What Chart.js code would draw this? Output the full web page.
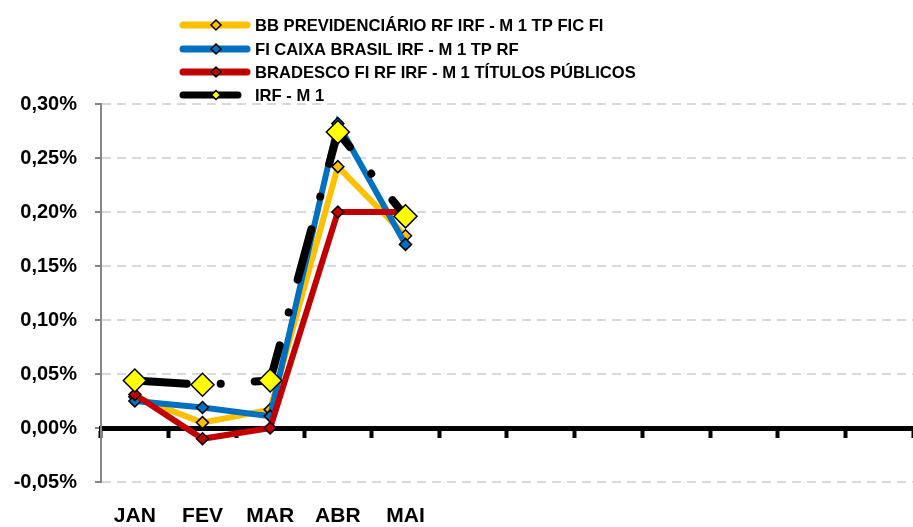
<!DOCTYPE html>
<html>
<head>
<meta charset="utf-8">
<title>Rentabilidade mensal</title>
<script src="https://cdn.jsdelivr.net/npm/chart.js@4.4.1/dist/chart.umd.min.js"></script>
<style>
  body { margin: 0; background: #fff; }
  #wrap { width: 913px; height: 527px; }
</style>
</head>
<body>
<div id="wrap"><canvas id="chart" width="913" height="527"></canvas></div>
<script>
// meses (só os cinco primeiros têm rótulo)
const months = ['JAN', 'FEV', 'MAR', 'ABR', 'MAI', '', '', '', '', '', '', ''];

// rentabilidade mensal em %
const bbPrev = [0.029, 0.005, 0.017, 0.242, 0.178];
const caixaBrasil = [0.025, 0.019, 0.011, 0.282, 0.170];
const bradesco = [0.031, -0.010, 0.000, 0.200, 0.200];
const irfM1 = [0.044, 0.040, 0.044, 0.274, 0.196];

const seriesNames = [
  'BB PREVIDENCIÁRIO RF IRF - M 1 TP FIC FI',
  'FI CAIXA BRASIL IRF - M 1 TP RF',
  'BRADESCO FI RF IRF - M 1 TÍTULOS PÚBLICOS',
  'IRF - M 1'
];

const yMin = -0.05, yMax = 0.30, yStep = 0.05;

const FONT = "'Liberation Sans', Arial, sans-serif";

function fmtPct(v) {
  return (Math.round(v * 100) / 100).toFixed(2).replace('.', ',') + '%';
}

// legenda desenhada à mão, uma linha por série
const legendPlugin = {
  id: 'stackedLegend',
  afterDraw(chart) {
    const ctx = chart.ctx;
    const rows = [25, 49, 72, 95];
    ctx.save();
    chart.data.datasets.forEach((ds, i) => {
      const y = rows[i];
      const x1 = 180, x2 = i === 3 ? 241 : 250, xm = 216;
      ctx.beginPath();
      ctx.lineCap = 'round';
      ctx.lineWidth = 7;
      ctx.strokeStyle = ds.borderColor;
      ctx.moveTo(x1 + 3, y);
      ctx.lineTo(x2 - 3, y);
      ctx.stroke();
      const r = i === 3 ? 4.5 : 5;
      ctx.beginPath();
      ctx.moveTo(xm, y - r);
      ctx.lineTo(xm + r, y);
      ctx.lineTo(xm, y + r);
      ctx.lineTo(xm - r, y);
      ctx.closePath();
      ctx.fillStyle = ds.pointBackgroundColor;
      ctx.fill();
      ctx.lineWidth = 1.5;
      ctx.strokeStyle = '#000';
      ctx.stroke();
      ctx.fillStyle = '#000';
      ctx.font = 'bold 16.6px ' + FONT;
      ctx.textBaseline = 'middle';
      ctx.textAlign = 'left';
      ctx.fillText(ds.label, 255, y + 1);
    });
    ctx.restore();
  }
};

function line(label, data, color, order) {
  return {
    label: label,
    data: data,
    borderColor: color,
    backgroundColor: color,
    borderWidth: 6,
    tension: 0,
    pointStyle: 'rectRot',
    pointRadius: 6,
    pointHoverRadius: 6,
    pointBackgroundColor: color,
    pointBorderColor: '#000',
    pointBorderWidth: 1.5,
    order: order
  };
}

const datasets = [
  line(seriesNames[0], bbPrev, '#FFC000', 3),
  line(seriesNames[1], caixaBrasil, '#0070C0', 2),
  line(seriesNames[2], bradesco, '#C00000', 1),
  Object.assign(line(seriesNames[3], irfM1, '#000000', 0), {
    borderWidth: 8,
    borderDash: [52, 34, 0.1, 34],
    borderCapStyle: 'round',
    pointRadius: 11.5,
    pointHoverRadius: 11.5,
    pointBackgroundColor: '#FFFF00'
  })
];

// sem folga lateral nos eixos x
function noSidePad(scale) {
  scale.paddingLeft = 0;
  scale.paddingRight = 0;
}

new Chart(document.getElementById('chart'), {
  type: 'line',
  data: { labels: months, datasets: datasets },
  options: {
    responsive: false,
    animation: false,
    events: [],
    layout: { autoPadding: false, padding: { top: 104, right: 0, left: 0, bottom: 0 } },
    plugins: {
      legend: { display: false },
      tooltip: { enabled: false }
    },
    scales: {
      x: {
        type: 'category',
        offset: true,
        position: 'bottom',
        grid: { display: false },
        border: { display: false },
        ticks: {
          autoSkip: false,
          maxRotation: 0,
          padding: 14,
          color: '#000',
          font: { family: FONT, size: 21, weight: 'bold' }
        },
        afterFit(scale) { scale.height = 45; noSidePad(scale); }
      },
      x0: {
        type: 'category',
        offset: true,
        position: { y: 0 },
        grid: {
          offset: true,
          drawOnChartArea: false,
          drawTicks: true,
          tickLength: 7,
          tickWidth: 4,
          tickColor: '#000'
        },
        border: { display: true, color: '#000', width: 5 },
        ticks: { display: false },
        afterFit: noSidePad
      },
      y: {
        min: yMin,
        max: yMax,
        ticks: {
          stepSize: yStep,
          padding: 18,
          color: '#000',
          font: { family: FONT, size: 20, weight: 'bold' },
          callback: (v) => fmtPct(v)
        },
        grid: {
          color: (c) => (c.tick && Math.abs(c.tick.value) < 1e-9) ? 'rgba(0,0,0,0)' : '#D9D9D9',
          lineWidth: 2,
          tickLength: 6,
          tickColor: '#868686',
          tickWidth: 2
        },
        border: { color: '#868686', width: 2, dash: [9, 6] },
        afterFit(scale) { scale.width = 101; }
      }
    }
  },
  plugins: [legendPlugin]
});
</script>
</body>
</html>
